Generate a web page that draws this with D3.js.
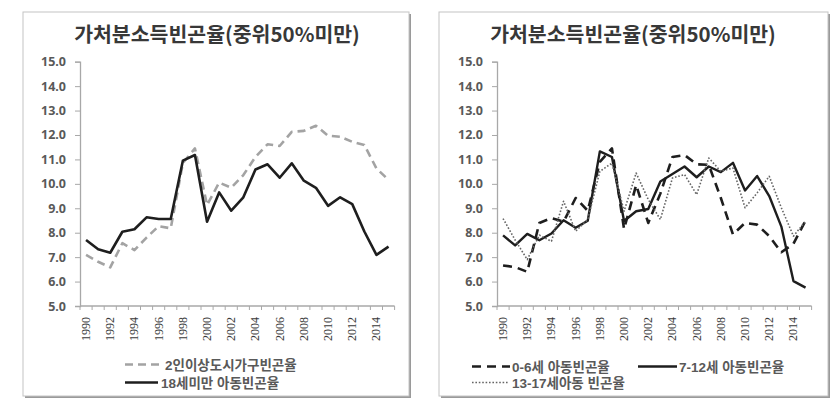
<!DOCTYPE html>
<html><head><meta charset="utf-8">
<script src="https://cdn.jsdelivr.net/npm/d3@7"></script>
<style>body{margin:0;background:#fff;}svg{display:block;}</style>
</head><body>
<svg id="chart" width="839" height="410"></svg>
<script>
// ---- data ----
const years = [1990,1991,1992,1993,1994,1995,1996,1997,1998,1999,2000,2001,2002,2003,2004,2005,2006,2007,2008,2009,2010,2011,2012,2013,2014,2015];
const xTickLabels = [1990,1992,1994,1996,1998,2000,2002,2004,2006,2008,2010,2012,2014];
const yTickValues = [5,6,7,8,9,10,11,12,13,14,15];
const chartTitle = "가처분소득빈곤율(중위50%미만)";

// left panel
const urbanHousehold2plus = [7.09,6.81,6.58,7.57,7.29,7.80,8.27,8.18,10.85,11.45,9.13,10.05,9.84,10.36,11.10,11.62,11.55,12.13,12.17,12.38,11.97,11.93,11.72,11.59,10.63,10.16];
const childUnder18 = [7.70,7.32,7.18,8.04,8.14,8.63,8.56,8.56,10.95,11.18,8.45,9.65,8.90,9.45,10.59,10.80,10.25,10.84,10.13,9.84,9.10,9.45,9.17,8.05,7.09,7.43];

// right panel
const child0to6 = [6.66,6.59,6.40,8.40,8.60,8.45,9.42,8.90,10.90,11.45,8.15,9.95,8.40,9.60,11.10,11.18,10.80,10.78,9.42,7.93,8.40,8.33,7.86,7.20,7.55,8.50];
const child7to12 = [7.89,7.48,7.95,7.69,7.97,8.51,8.20,8.49,11.33,11.10,8.48,8.88,8.97,10.10,10.40,10.71,10.27,10.71,10.48,10.86,9.73,10.32,9.50,8.25,6.02,5.75];
const child13to17 = [8.58,7.70,6.90,7.90,7.65,9.29,8.06,8.54,10.51,10.85,8.88,10.44,9.36,8.54,10.24,10.38,9.56,11.06,10.51,10.65,9.02,9.63,10.31,9.02,7.86,8.47];

const leftSeries = [
  {name:"2인이상도시가구빈곤율", values: urbanHousehold2plus, color:"#a3a3a3", width:2.6, dash:"8,5"},
  {name:"18세미만 아동빈곤율", values: childUnder18, color:"#1e1e1e", width:2.6, dash:null}
];
const rightSeries = [
  {name:"0-6세 아동빈곤율", values: child0to6, color:"#1e1e1e", width:2.6, dash:"9,6"},
  {name:"7-12세 아동빈곤율", values: child7to12, color:"#1e1e1e", width:2.4, dash:null},
  {name:"13-17세아동 빈곤율", values: child13to17, color:"#666", width:1.6, dash:"1.6,1.8"}
];

const svg = d3.select("#chart");
const FONT = "'Noto Sans CJK KR','Noto Sans',sans-serif";
const LEGEND_FONT = "'Liberation Sans','Noto Sans CJK KR',sans-serif";

function panel(cfg){
  const g = svg.append("g");
  // frame with shadow
  g.append("rect").attr("x",cfg.fx+2).attr("y",cfg.fy+2).attr("width",cfg.fw).attr("height",cfg.fh).attr("fill","#9a9a9a");
  g.append("rect").attr("x",cfg.fx).attr("y",cfg.fy).attr("width",cfg.fw).attr("height",cfg.fh).attr("fill","#fff").attr("stroke","#c4c4c4").attr("stroke-width",1);

  g.append("text").attr("x",cfg.titleX).attr("y",42).attr("text-anchor","middle")
    .attr("font-family",FONT).attr("font-weight","bold").attr("font-size",20.5).attr("fill","#383838")
    .text(chartTitle);

  const x = d3.scaleBand().domain(years).range([cfg.x0, cfg.x0 + 12.1*years.length]);
  const y = d3.scaleLinear().domain([5,15]).range([306, 61.7]);

  // y axis
  const ya = g.append("g").attr("transform",`translate(${cfg.x0},0)`)
    .call(d3.axisLeft(y).tickValues(yTickValues).tickFormat(d3.format(".1f")).tickSize(5).tickPadding(9));
  ya.select(".domain").attr("stroke","#a8a8a8").attr("stroke-width",1.3);
  ya.selectAll(".tick line").attr("stroke","#a8a8a8");
  ya.selectAll(".tick text").attr("font-family","'Noto Sans',sans-serif").attr("font-weight","bold").attr("font-size",12.5).attr("fill","#595959");

  // x axis
  const xa = g.append("g").attr("transform",`translate(0,306)`);
  xa.append("line").attr("x1",x.range()[0]).attr("x2",x.range()[1]).attr("stroke","#a8a8a8").attr("stroke-width",1.3);
  xa.selectAll("line.t").data(years.concat(["end"])).join("line").attr("class","t")
    .attr("x1",(d,i)=> x.range()[0] + i*x.step()).attr("x2",(d,i)=> x.range()[0] + i*x.step())
    .attr("y1",0).attr("y2",4).attr("stroke","#a8a8a8");
  xa.selectAll("text").data(xTickLabels).join("text")
    .attr("transform",d=>`translate(${x(d)+x.bandwidth()/2+4},11) rotate(-90)`)
    .attr("text-anchor","end")
    .attr("font-family","'Liberation Serif',serif").attr("font-size",12).attr("fill","#3a3a3a")
    .text(d=>d);

  const line = d3.line().x((d,i)=>x(years[i])+x.bandwidth()/2).y(d=>y(d));
  cfg.series.forEach(s=>{
    g.append("path").datum(s.values).attr("d",line).attr("fill","none")
      .attr("stroke",s.color).attr("stroke-width",s.width).attr("stroke-linejoin","round")
      .attr("stroke-dasharray",s.dash);
  });

  // legend
  cfg.legend.forEach((l,i)=>{
    const s = cfg.series[l.idx];
    g.append("line").attr("x1",l.x1).attr("x2",l.x2).attr("y1",l.y).attr("y2",l.y)
      .attr("stroke",s.color).attr("stroke-width",s.width).attr("stroke-dasharray",s.dash);
    g.append("text").attr("x",l.tx).attr("y",l.y+5).attr("font-family",LEGEND_FONT).attr("font-weight","bold")
      .attr("font-size",13.5).attr("fill","#595959").text(s.name);
  });
}

panel({fx:23, fy:12, fw:386, fh:384, titleX:217, x0:80, series:leftSeries,
  legend:[{idx:0,x1:125,x2:163,y:364.5,tx:165},{idx:1,x1:125,x2:158,y:382.5,tx:161}]});
panel({fx:439, fy:12, fw:389, fh:384, titleX:633, x0:497, series:rightSeries,
  legend:[{idx:0,x1:472,x2:510,y:366.5,tx:512},{idx:1,x1:638,x2:677,y:366.5,tx:679},{idx:2,x1:472,x2:508,y:382.5,tx:512}]});
</script>
</body></html>
